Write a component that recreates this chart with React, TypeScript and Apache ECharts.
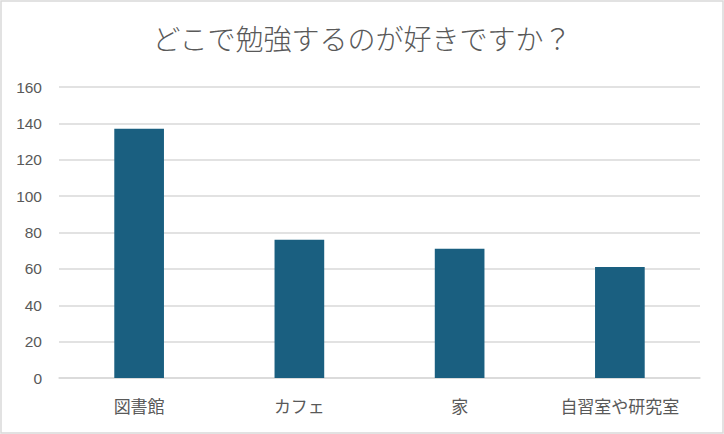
import React, { useEffect, useRef } from "react";
import * as echarts from "echarts";

const titleText = "どこで勉強するのが好きですか？";
const categories = ["図書館", "カフェ", "家", "自習室や研究室"];
const values = [137, 76, 71, 61];
const yTicks = { min: 0, max: 160, interval: 20 };

export default function App() {
  const ref = useRef<HTMLDivElement>(null);
  useEffect(() => {
    document.body.style.margin = "0";
    const chart = echarts.init(ref.current!, null, { renderer: "svg" });
    const font = "'Noto Sans CJK JP', 'Liberation Sans', sans-serif";
    chart.setOption({
      animation: false,
      backgroundColor: "#ffffff",
      title: {
        text: titleText,
        left: "center",
        top: 24,
        padding: 0,
        textStyle: {
          fontFamily: font,
          fontSize: 28,
          fontWeight: 300,
          color: "#595959",
        },
      },
      graphic: [
        {
          type: "rect",
          shape: { x: 1, y: 1, width: 722, height: 432 },
          style: { fill: "none", stroke: "#d9d9d9", lineWidth: 1.5 },
          silent: true,
        },
      ],
      grid: { left: 59, right: 24, top: 87, bottom: 56, containLabel: false },
      xAxis: {
        type: "category",
        data: categories,
        axisLine: { show: true, lineStyle: { color: "#d9d9d9", width: 1.5 } },
        axisTick: { show: false },
        axisLabel: {
          margin: 19,
          fontFamily: font,
          fontSize: 17,
          color: "#595959",
        },
      },
      yAxis: {
        type: "value",
        min: yTicks.min,
        max: yTicks.max,
        interval: yTicks.interval,
        axisLine: { show: false },
        axisTick: { show: false },
        splitLine: { lineStyle: { color: "#d9d9d9", width: 1.5 } },
        axisLabel: {
          margin: 17,
          fontFamily: "'Liberation Sans', Arial, sans-serif",
          fontSize: 15.5,
          color: "#595959",
        },
      },
      series: [
        {
          type: "bar",
          data: values,
          barWidth: "31%",
          itemStyle: { color: "#1a5f80" },
        },
      ],
    });
    return () => chart.dispose();
  }, []);
  return <div ref={ref} style={{ width: 724, height: 434 }} />;
}
